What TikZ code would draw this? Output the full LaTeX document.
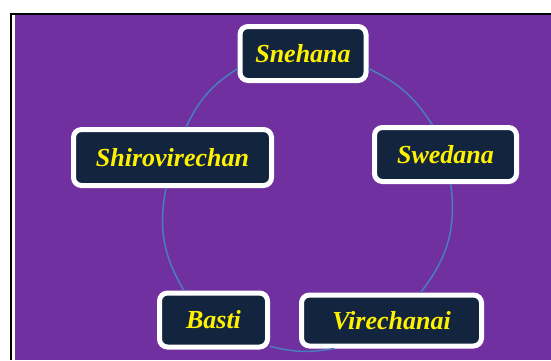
\documentclass[tikz,border=0pt]{standalone}
\usepackage{fontspec}
\setmainfont{Liberation Serif}
\definecolor{slidepurple}{HTML}{7030A0}
\definecolor{navybox}{HTML}{13243F}
\definecolor{ringblue}{HTML}{4A7EBB}

\begin{document}
\begin{tikzpicture}[
  x=1pt, y=1pt,
  phase/.style={draw=white, line width=5pt, fill=navybox, rounded corners=8pt,
    text=yellow, inner sep=0pt, minimum height=54pt,
    font=\fontsize{26}{30}\selectfont\bfseries\itshape},
  ring/.style={draw=ringblue, line width=1.5pt}
]
  \useasboundingbox (0,0) rectangle (551,360);
  % slide frame
  \fill[slidepurple] (15,0) rectangle (551,345);
  \fill[black] (10,345) rectangle (551,346.7);
  \fill[black] (10,0) rectangle (12,346.7);

  \node[phase, minimum width=126pt] (sneh) at (303,306.5) {Snehana};
  \node[phase, minimum width=142pt] (swed) at (445.5,205.5) {Swedana};
  \node[phase, minimum width=180pt, minimum height=51pt] (vire) at (391.5,39.5) {Virechanai};
  \node[phase, minimum width=108pt] (basti) at (213.5,40) {Basti};
  \node[phase, minimum width=198pt, minimum height=56pt] (shiro) at (172.5,202.5) {Shirovirechan};

  % cycle arcs
  \draw[ring] (sneh.193) to[bend right=16] (shiro.66);
  \draw[ring] (shiro.258) to[bend right=21] (basti.135);
  \draw[ring] (basti.335) to[bend right=12] (vire.206);
  \draw[ring] (vire.44) to[bend right=23] (swed.280);
  \draw[ring] (swed.114) to[bend right=16] (sneh.347);
\end{tikzpicture}
\end{document}
